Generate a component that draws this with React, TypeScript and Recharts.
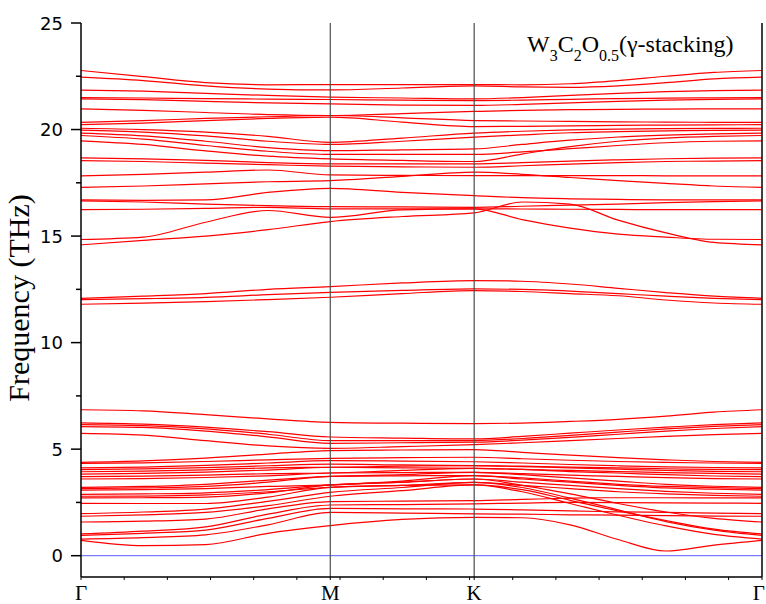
import React from 'react';
import { LineChart, Line, XAxis, YAxis, ReferenceLine } from 'recharts';

// k-path sampling: Γ → M → K → Γ (hexagonal BZ, reduced units)
const kPath = [0, 0.1443, 0.2887, 0.433, 0.5774, 0.744, 0.9107, 1.0218, 1.1329, 1.244, 1.3551, 1.4663, 1.5774];
const kEnd = 1.5774;
const kLabelPos = [0, 0.5774, 0.9107, 1.5774];
const kLabels = ['Γ', 'M', 'K', 'Γ'];
const minorK = [0.1, 0.2, 0.3, 0.4, 0.5, 0.6, 0.7, 0.8, 0.9, 1.0, 1.1, 1.2, 1.3, 1.4, 1.5];
const yMajor = [0, 5, 10, 15, 20, 25];
const yMinor = [2.5, 7.5, 12.5, 17.5, 22.5];

// acoustic-like / lowest branches (THz)
const lowBands = [
  [0.72, 0.47, 0.52, 1.05, 1.41, 1.7, 1.8, 1.78, 1.45, 0.76, 0.22, 0.5, 0.72],
  [0.78, 0.85, 0.98, 1.45, 2.03, 2.0, 1.96, 1.95, 1.92, 1.9, 1.88, 1.86, 1.85],
  [0.95, 1.05, 1.2, 1.75, 2.22, 2.2, 2.19, 2.15, 2.1, 2.06, 2.03, 2.0, 1.97],
  [1.02, 1.15, 1.35, 1.95, 2.38, 2.4, 2.43, 2.47, 2.5, 2.49, 2.48, 2.47, 2.46],
  [1.58, 1.62, 1.72, 2.2, 2.54, 2.56, 2.58, 2.64, 2.7, 2.72, 2.72, 2.71, 2.71],
  [1.85, 1.92, 2.03, 2.35, 2.79, 3.05, 3.32, 3.1, 2.6, 2.1, 1.65, 1.25, 1.02],
  [1.97, 2.05, 2.19, 2.55, 2.97, 3.2, 3.44, 3.2, 2.7, 2.15, 1.6, 1.2, 0.95],
  [2.46, 2.45, 2.45, 2.75, 3.21, 3.3, 3.32, 3.0, 2.45, 1.9, 1.4, 1.0, 0.78],
  [2.71, 2.72, 2.75, 2.95, 3.32, 3.45, 3.6, 3.3, 2.9, 2.45, 2.05, 1.75, 1.58],
];

// dense 3-5 THz block
const midBands = [
  [2.79, 2.8, 2.85, 3.0, 3.21, 3.3, 3.44, 3.3, 3.15, 3.0, 2.9, 2.83, 2.79],
  [2.88, 2.9, 2.95, 3.1, 3.32, 3.45, 3.6, 3.45, 3.3, 3.15, 3.02, 2.93, 2.88],
  [3.08, 3.1, 3.15, 3.25, 3.32, 3.5, 3.76, 3.6, 3.45, 3.3, 3.18, 3.12, 3.08],
  [3.15, 3.18, 3.25, 3.45, 3.72, 3.75, 3.76, 3.65, 3.5, 3.35, 3.25, 3.19, 3.15],
  [3.21, 3.25, 3.35, 3.55, 3.72, 3.8, 3.91, 3.8, 3.65, 3.5, 3.35, 3.26, 3.21],
  [3.6, 3.62, 3.67, 3.75, 3.88, 3.9, 3.91, 3.85, 3.78, 3.72, 3.66, 3.62, 3.6],
  [3.71, 3.73, 3.78, 3.85, 3.88, 4.0, 4.1, 4.05, 3.95, 3.88, 3.8, 3.74, 3.71],
  [3.83, 3.86, 3.92, 4.02, 4.15, 4.12, 4.1, 4.05, 4.0, 3.95, 3.9, 3.86, 3.83],
  [3.94, 3.97, 4.03, 4.12, 4.15, 4.2, 4.23, 4.18, 4.12, 4.06, 4.0, 3.96, 3.94],
  [4.04, 4.07, 4.13, 4.22, 4.3, 4.26, 4.23, 4.2, 4.16, 4.12, 4.08, 4.05, 4.04],
  [4.12, 4.16, 4.24, 4.35, 4.46, 4.44, 4.41, 4.35, 4.28, 4.22, 4.17, 4.14, 4.12],
  [4.33, 4.36, 4.42, 4.5, 4.57, 4.6, 4.62, 4.55, 4.48, 4.42, 4.38, 4.35, 4.33],
  [4.38, 4.45, 4.58, 4.77, 4.93, 4.96, 4.98, 4.85, 4.72, 4.6, 4.5, 4.42, 4.38],
];

// 5-7 THz
const topLowBands = [
  [6.85, 6.8, 6.62, 6.42, 6.26, 6.22, 6.2, 6.22, 6.3, 6.4, 6.55, 6.74, 6.85],
  [6.23, 6.17, 6.03, 5.82, 5.57, 5.52, 5.48, 5.6, 5.75, 5.9, 6.03, 6.15, 6.23],
  [6.15, 6.1, 5.95, 5.7, 5.4, 5.4, 5.4, 5.5, 5.65, 5.8, 5.95, 6.07, 6.15],
  [6.06, 6.02, 5.85, 5.58, 5.27, 5.3, 5.33, 5.42, 5.55, 5.7, 5.85, 5.97, 6.06],
  [5.74, 5.66, 5.4, 5.15, 5.04, 5.12, 5.21, 5.3, 5.4, 5.5, 5.6, 5.68, 5.74],
];

// ~12 THz
const bands12 = [
  [12.08, 12.18, 12.3, 12.5, 12.63, 12.8, 12.91, 12.88, 12.75, 12.55, 12.35, 12.18, 12.08],
  [12.02, 12.06, 12.12, 12.25, 12.36, 12.45, 12.52, 12.5, 12.42, 12.3, 12.18, 12.08, 12.02],
  [11.8, 11.85, 11.92, 12.02, 12.13, 12.3, 12.44, 12.4, 12.3, 12.2, 12.0, 11.86, 11.8],
];

// 14.5-18.7 THz
const bands16 = [
  [14.59, 14.8, 15.0, 15.3, 15.68, 15.92, 16.09, 16.6, 16.5, 15.75, 15.15, 14.7, 14.59],
  [14.84, 14.95, 15.65, 16.2, 15.88, 16.23, 16.28, 15.77, 15.37, 15.09, 14.95, 14.85, 14.84],
  [16.24, 16.26, 16.3, 16.35, 16.28, 16.28, 16.28, 16.27, 16.26, 16.25, 16.24, 16.24, 16.24],
  [16.65, 16.6, 16.5, 16.43, 16.38, 16.37, 16.35, 16.4, 16.45, 16.5, 16.57, 16.62, 16.65],
  [16.7, 16.68, 16.7, 17.05, 17.24, 17.05, 16.9, 16.8, 16.75, 16.72, 16.7, 16.7, 16.7],
  [17.29, 17.35, 17.45, 17.55, 17.6, 17.8, 18.0, 17.9, 17.75, 17.6, 17.47, 17.35, 17.29],
  [17.83, 17.9, 18.0, 18.1, 17.87, 17.85, 17.84, 17.84, 17.84, 17.84, 17.83, 17.83, 17.83],
  [18.54, 18.5, 18.42, 18.35, 18.28, 18.25, 18.23, 18.3, 18.38, 18.45, 18.5, 18.52, 18.54],
  [18.67, 18.62, 18.55, 18.45, 18.39, 18.39, 18.39, 18.45, 18.52, 18.58, 18.63, 18.66, 18.67],
];

// 18.5-23 THz
const bands20 = [
  [19.47, 19.3, 19.0, 18.75, 18.62, 18.55, 18.5, 18.85, 19.2, 19.45, 19.6, 19.68, 19.72],
  [19.72, 19.55, 19.25, 18.98, 18.83, 18.83, 18.83, 18.95, 19.1, 19.25, 19.38, 19.45, 19.47],
  [19.83, 19.7, 19.45, 19.15, 19.01, 19.05, 19.09, 19.3, 19.5, 19.65, 19.74, 19.8, 19.83],
  [19.97, 19.88, 19.7, 19.45, 19.3, 19.45, 19.64, 19.75, 19.85, 19.9, 19.94, 19.96, 19.97],
  [20.06, 20.0, 19.88, 19.68, 19.4, 19.6, 19.83, 19.92, 19.98, 20.02, 20.04, 20.05, 20.06],
  [20.23, 20.3, 20.42, 20.52, 20.58, 20.35, 20.14, 20.15, 20.17, 20.2, 20.21, 20.22, 20.23],
  [20.34, 20.42, 20.52, 20.6, 20.66, 20.55, 20.42, 20.4, 20.38, 20.36, 20.35, 20.34, 20.34],
  [20.97, 20.9, 20.8, 20.7, 20.66, 20.75, 20.85, 20.9, 20.93, 20.95, 20.96, 20.97, 20.97],
  [21.44, 21.4, 21.32, 21.25, 21.2, 21.15, 21.13, 21.18, 21.25, 21.32, 21.38, 21.42, 21.44],
  [21.5, 21.48, 21.45, 21.43, 21.41, 21.38, 21.36, 21.38, 21.42, 21.45, 21.47, 21.49, 21.5],
  [21.85, 21.8, 21.7, 21.6, 21.52, 21.48, 21.44, 21.5, 21.6, 21.7, 21.78, 21.83, 21.85],
  [22.46, 22.3, 22.05, 21.9, 21.86, 21.95, 22.05, 22.0, 21.98, 22.05, 22.2, 22.38, 22.46],
  [22.77, 22.48, 22.2, 22.1, 22.11, 22.11, 22.11, 22.1, 22.15, 22.3, 22.5, 22.68, 22.77],
];

const allBands = [...lowBands, ...midBands, ...topLowBands, ...bands12, ...bands16, ...bands20];

const rows = kPath.map((k, i) => {
  const row: Record<string, number> = { k };
  allBands.forEach((b, j) => { row['b' + j] = b[i]; });
  return row;
});

const xTicks = [...minorK, ...kLabelPos].sort((a, b) => a - b);
const yTicks = [...yMajor, ...yMinor].sort((a, b) => a - b);

const serif = '"Liberation Serif", "Times New Roman", serif';
const sans = '"DejaVu Sans", sans-serif';

const labelFor = (v: number) => {
  const i = kLabelPos.findIndex((p) => Math.abs(p - v) < 1e-6);
  return i >= 0 ? i : -1;
};

const BottomTick = (p: any) => {
  const i = labelFor(p.payload.value);
  const last = i === kLabels.length - 1;
  return (
    <g>
      <line x1={p.x} x2={p.x} y1={p.y - 4} y2={p.y - 1} stroke="#000" strokeWidth={1} />
      {i >= 0 && (
        <text
          x={last ? p.x + 3 : p.x} y={p.y + 19} textAnchor={last ? 'end' : 'middle'}
          fontFamily={serif} fontSize={21} fill="#000"
        >
          {kLabels[i]}
        </text>
      )}
    </g>
  );
};

const TopTick = (p: any) => (
  <line x1={p.x} x2={p.x} y1={p.y} y2={p.y + 3} stroke="#000" strokeWidth={1} />
);

const LeftTick = (p: any) => {
  const v = p.payload.value;
  const major = v % 5 === 0;
  const ax = p.x + 18;
  return (
    <g>
      <line x1={ax} x2={ax - (major ? 10 : 5)} y1={p.y} y2={p.y} stroke="#000" strokeWidth={1.5} />
      {major && (
        <text x={p.x} y={p.y + 6.5} textAnchor="end" fontFamily={sans} fontSize={18} fill="#000">
          {v}
        </text>
      )}
    </g>
  );
};

const RightTick = (p: any) => {
  const major = p.payload.value % 5 === 0;
  return <line x1={p.x - 3} x2={p.x - 3 + (major ? 4 : 3)} y1={p.y} y2={p.y} stroke="#000" strokeWidth={1.5} />;
};

export default function App() {
  return (
    <div style={{ position: 'absolute', left: 0, top: 0, width: 766, height: 604, background: '#fff' }}>
      <LineChart width={766} height={604} data={rows} margin={{ top: 23, right: 0, bottom: 0, left: 0 }}>
        <XAxis
          xAxisId="b" dataKey="k" type="number" domain={[0, kEnd]} ticks={xTicks} interval={0}
          height={27} tickSize={4} tickMargin={0} tickLine={false}
          axisLine={{ stroke: '#000', strokeWidth: 1.5 }} tick={(p: any) => <BottomTick {...p} />}
        />
        <XAxis
          xAxisId="t" orientation="top" dataKey="k" type="number" domain={[0, kEnd]} ticks={minorK} interval={0}
          height={0} tickSize={0} tickMargin={0} tickLine={false}
          axisLine={{ stroke: '#000', strokeWidth: 1.5 }} tick={(p: any) => <TopTick {...p} />}
        />
        <YAxis
          yAxisId="l" type="number" domain={[-1, 25]} ticks={yTicks} interval={0}
          width={81} tickSize={10} tickMargin={8} tickLine={false}
          axisLine={{ stroke: '#000', strokeWidth: 1.5 }} tick={(p: any) => <LeftTick {...p} />}
        />
        <YAxis
          yAxisId="r" orientation="right" type="number" domain={[-1, 25]} ticks={yTicks} interval={0}
          width={4} tickSize={3} tickMargin={0} tickLine={false}
          axisLine={{ stroke: '#000', strokeWidth: 1.5 }} tick={(p: any) => <RightTick {...p} />}
        />
        <ReferenceLine xAxisId="b" yAxisId="l" y={0} stroke="#5c5cff" strokeWidth={1} />
        {allBands.map((_, j) => (
          <Line
            key={j} xAxisId="b" yAxisId="l" type="monotone" dataKey={'b' + j}
            stroke="#ff0000" strokeWidth={1.2} dot={false} activeDot={false} isAnimationActive={false}
          />
        ))}
        <ReferenceLine xAxisId="b" yAxisId="l" x={kLabelPos[1]} stroke="#4d4d4d" strokeWidth={1.2} />
        <ReferenceLine xAxisId="b" yAxisId="l" x={kLabelPos[2]} stroke="#4d4d4d" strokeWidth={1.2} />
      </LineChart>
      <svg width={766} height={604} style={{ position: 'absolute', left: 0, top: 0, pointerEvents: 'none' }}>
        <text x={29} y={298} transform="rotate(-90 29 298)" textAnchor="middle" fontFamily={serif} fontSize={30} fill="#000">
          Frequency (THz)
        </text>
        <text x={527} y={52} fontFamily={serif} fontSize={24} fill="#000">
          W<tspan fontSize={16} dy={9}>3</tspan>
          <tspan dy={-9}>C</tspan><tspan fontSize={16} dy={9}>2</tspan>
          <tspan dy={-9}>O</tspan><tspan fontSize={16} dy={9}>0.5</tspan>
          <tspan dy={-9}>(γ-stacking)</tspan>
        </text>
      </svg>
    </div>
  );
}
